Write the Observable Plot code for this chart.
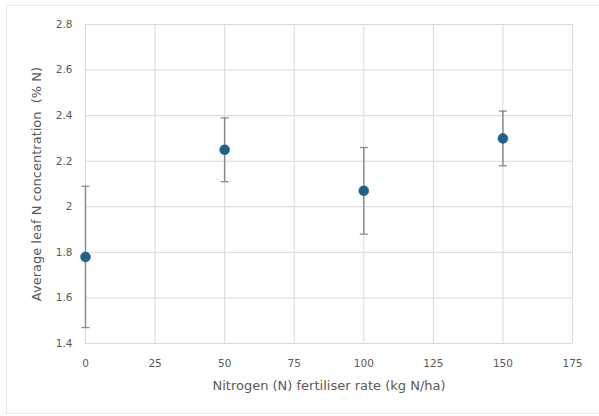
<!DOCTYPE html>
<html>
<head>
<meta charset="utf-8">
<script src="https://cdn.jsdelivr.net/npm/d3@7"></script>
<script src="https://cdn.jsdelivr.net/npm/@observablehq/plot@0.6"></script>
<style>
  html, body { margin: 0; padding: 0; background: #fff; }
  #wrap { position: relative; width: 599px; height: 416px; overflow: hidden; }
  #frame { position: absolute; left: 6px; top: 5px; width: 600px; height: 409px; border: 1px solid #e6e6e6; box-sizing: border-box; pointer-events: none; }
  #chart { position: absolute; left: 0; top: 0; }
</style>
</head>
<body>
<div id="wrap"><div id="chart"></div><div id="frame"></div></div>
<script>
const rates = [0, 50, 100, 150];
const means = [1.78, 2.25, 2.07, 2.30];
const lows  = [1.47, 2.11, 1.88, 2.18];
const highs = [2.09, 2.39, 2.26, 2.42];
const xTicks = [0, 25, 50, 75, 100, 125, 150, 175];
const yTicks = [1.4, 1.6, 1.8, 2.0, 2.2, 2.4, 2.6, 2.8];
const xLabel = "Nitrogen (N) fertiliser rate (kg N/ha)";
const yLabel = "Average leaf N concentration  (% N)";

const data = rates.map((r, i) => ({rate: r, mean: means[i], lo: lows[i], hi: highs[i]}));

const cap = {
  draw(ctx, size) {
    const w = 4;
    ctx.moveTo(-w, 0);
    ctx.lineTo(w, 0);
  }
};

const chart = Plot.plot({
  width: 599,
  height: 416,
  marginLeft: 85,
  marginRight: 27,
  marginTop: 24,
  marginBottom: 73,
  style: {fontFamily: "'DejaVu Sans', sans-serif", fontSize: "10.5px", color: "#595959", background: "transparent"},
  x: {domain: [0, 175]},
  y: {domain: [1.4, 2.8]},
  marks: [
    Plot.gridX(xTicks, {stroke: "#d9d9d9", strokeOpacity: 1, strokeWidth: 1}),
    Plot.gridY(yTicks, {stroke: "#d9d9d9", strokeOpacity: 1, strokeWidth: 1}),
    Plot.axisX({ticks: xTicks, tickSize: 0, tickPadding: 16, label: xLabel, labelAnchor: "center", labelArrow: "none", labelOffset: 46, tickFormat: d => String(d)}),
    Plot.axisY({ticks: yTicks, tickSize: 0, tickPadding: 13, label: yLabel, labelAnchor: "center", labelArrow: "none", labelOffset: 54, tickFormat: d => d3.format("~g")(d)}),
    Plot.ruleX(data, {x: "rate", y1: "lo", y2: "hi", stroke: "#8c8c8c", strokeWidth: 1.5}),
    Plot.dot(data, {x: "rate", y: "hi", symbol: cap, r: 3, stroke: "#8c8c8c", strokeWidth: 1.3}),
    Plot.dot(data, {x: "rate", y: "lo", symbol: cap, r: 3, stroke: "#8c8c8c", strokeWidth: 1.3}),
    Plot.dot(data, {x: "rate", y: "mean", r: 5, fill: "#1d6289", stroke: "#1d6289", strokeWidth: 0.5})
  ]
});
chart.querySelectorAll("[aria-label='x-axis label'] text, [aria-label='y-axis label'] text").forEach(t => t.setAttribute("font-size", "13"));
document.getElementById("chart").append(chart);
</script>
</body>
</html>
